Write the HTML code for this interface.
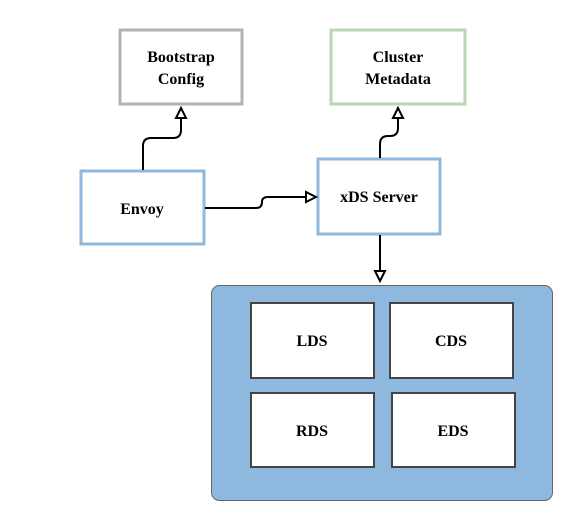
<!DOCTYPE html>
<html><head><style>
body{margin:0;background:#fff;}
</style></head><body>
<svg width="572" height="521" viewBox="0 0 572 521" xmlns="http://www.w3.org/2000/svg">
<rect x="120" y="30" width="122" height="74" fill="#fff" stroke="#b3b3b3" stroke-width="3"/>
<rect x="331" y="30" width="134" height="74" fill="#fff" stroke="#b9d7b3" stroke-width="3"/>
<rect x="81" y="171" width="123" height="73" fill="#fff" stroke="#8fb8de" stroke-width="3"/>
<rect x="318" y="159" width="122" height="75" fill="#fff" stroke="#8fb8de" stroke-width="3"/>
<g fill="none" stroke="#000" stroke-width="2">
<path d="M143 170 V146 Q143 138 151 138 H173 Q181 138 181 130 V117"/>
<path d="M380 158 V144 Q380 136 388 136 H390 Q398 136 398 128 V117"/>
<path d="M205 208 H256 Q262 208 262 202 Q262 197 268 197 H307"/>
<path d="M380 235 V272"/>
</g>
<g fill="#fff" stroke="#000" stroke-width="2">
<path d="M181 108 L176 118 L186 118 Z"/>
<path d="M398 108 L393 118 L403 118 Z"/>
<path d="M316 197 L306 192 L306 202 Z"/>
<path d="M380 281 L375 271 L385 271 Z"/>
</g>
<rect x="211.5" y="285.5" width="341" height="215" rx="8" fill="#8fb8de" stroke="#666" stroke-width="1"/>
<g fill="#fff" stroke="#444" stroke-width="2">
<rect x="251" y="303" width="123" height="75"/>
<rect x="390" y="303" width="123" height="75"/>
<rect x="251" y="393" width="123" height="74"/>
<rect x="392" y="393" width="123" height="74"/>
</g>
<g font-family="'Liberation Serif', 'DejaVu Serif', serif" font-weight="bold" font-size="16" text-anchor="middle" fill="#000">
<text x="181" y="62">Bootstrap</text><text x="181" y="84">Config</text>
<text x="398" y="62">Cluster</text><text x="398" y="84">Metadata</text>
<text x="142" y="214">Envoy</text>
<text x="379" y="202">xDS Server</text>
<text x="312" y="346">LDS</text>
<text x="451" y="346">CDS</text>
<text x="312" y="436">RDS</text>
<text x="453" y="436">EDS</text>
</g>
</svg>
</body></html>
